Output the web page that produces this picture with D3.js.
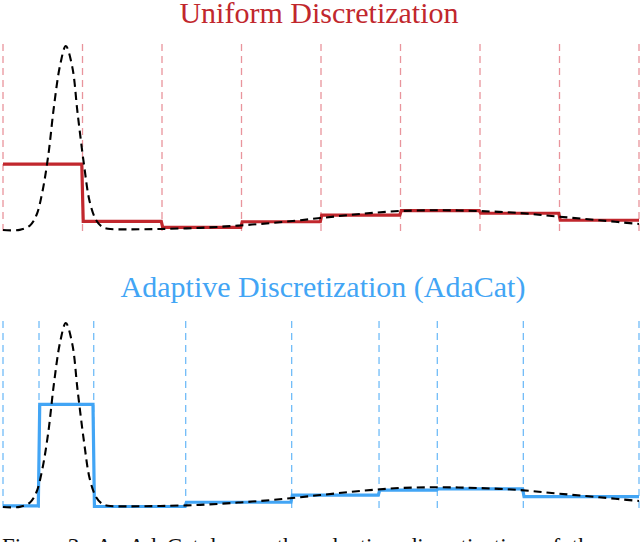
<!DOCTYPE html>
<html>
<head>
<meta charset="utf-8">
<script src="https://cdn.jsdelivr.net/npm/d3@7"></script>
<style>
  html, body { margin: 0; padding: 0; background: #fff; overflow: hidden; }
  svg { display: block; }
</style>
</head>
<body>
<svg id="chart" width="640" height="542"></svg>
<script>
// ---- data (x in units of one uniform bin, 8 bins) ----
const densityX = [0, 0.21, 0.34, 0.42, 0.49, 0.57, 0.64, 0.72, 0.79, 0.87, 0.94, 1.02, 1.09, 1.17, 1.25, 1.32, 1.6, 1.98, 2.48, 2.98, 3.48, 3.99, 4.49, 4.99, 5.5, 5.98, 6.5, 6.98, 7.5, 8];
const densityY = [0.005, 0.006, 0.03, 0.085, 0.2, 0.41, 0.67, 0.9, 1.0, 0.89, 0.63, 0.355, 0.16, 0.06, 0.022, 0.012, 0.009, 0.011, 0.017, 0.03, 0.047, 0.07, 0.092, 0.108, 0.112, 0.108, 0.097, 0.078, 0.058, 0.038];

const uniformEdges = [0, 1, 2, 3, 4, 5, 6, 7, 8];
const uniformValues = [0.362, 0.052, 0.02, 0.05, 0.086, 0.11, 0.096, 0.058];

const adaptiveEdges = [0, 0.453, 1.141, 2.298, 3.631, 4.73, 5.463, 6.545, 8];
const adaptiveValues = [0.011, 0.56, 0.008, 0.031, 0.07, 0.097, 0.103, 0.061];

const titles = ["Uniform Discretization", "Adaptive Discretization (AdaCat)"];
const caption = "Figure 3:  An AdaCat  learns  the  adaptive  discretization  of  the";

// ---- drawing ----
const svg = d3.select("#chart");
const x = d3.scaleLinear().domain([0, 8]).range([3, 639]);

const panels = [
  { title: titles[0], color: "#c1272d", grid: "rgba(215,60,75,0.55)", edges: uniformEdges, values: uniformValues,
    y: d3.scaleLinear().domain([0, 1]).range([231, 46]), titleX: 319, titleY: 23 },
  { title: titles[1], color: "#42a5f5", grid: "rgba(66,165,245,0.75)", edges: adaptiveEdges, values: adaptiveValues,
    y: d3.scaleLinear().domain([0, 1]).range([508, 323]), titleX: 323, titleY: 297 }
];

const density = densityX.map((d, i) => [d, densityY[i]]);
const eps = 0.009;

panels.forEach(p => {
  const g = svg.append("g");

  // bin boundaries
  g.selectAll("line.edge").data(p.edges).join("line")
    .attr("class", "edge")
    .attr("x1", d => x(d)).attr("x2", d => x(d))
    .attr("y1", p.y(0)).attr("y2", p.y(1.03))
    .attr("stroke", p.grid)
    .attr("stroke-width", 1.3)
    .attr("stroke-dasharray", "7,5");

  // step (discretized) distribution
  const steps = [];
  p.values.forEach((v, i) => {
    const a = p.edges[i], b = p.edges[i + 1];
    steps.push([i === 0 ? a : a + eps, v]);
    steps.push([i === p.values.length - 1 ? b : b - eps, v]);
  });
  const stepLine = d3.line().x(d => x(d[0])).y(d => p.y(d[1]));
  g.append("path")
    .attr("d", stepLine(steps))
    .attr("fill", "none")
    .attr("stroke", p.color)
    .attr("stroke-width", 3.2)
    .attr("stroke-linejoin", "miter");

  // true density (dashed)
  const dl = d3.line().curve(d3.curveCatmullRom.alpha(0.5)).x(d => x(d[0])).y(d => p.y(d[1]));
  g.append("path")
    .attr("d", dl(density))
    .attr("fill", "none")
    .attr("stroke", "#000")
    .attr("stroke-width", 2.1)
    .attr("stroke-dasharray", "8,5");

  // title
  g.append("text")
    .attr("x", p.titleX).attr("y", p.titleY)
    .attr("text-anchor", "middle")
    .attr("font-family", "'Liberation Serif', 'DejaVu Serif', serif")
    .attr("font-size", 30)
    .attr("fill", p.color)
    .text(p.title);
});

// caption (cut off at the bottom of the frame, as in the reference)
svg.append("text")
  .attr("x", 2).attr("y", 554)
  .attr("font-family", "'Liberation Serif', serif")
  .attr("font-size", 23)
  .attr("fill", "#111")
  .attr("xml:space", "preserve")
  .text(caption);
</script>
</body>
</html>
